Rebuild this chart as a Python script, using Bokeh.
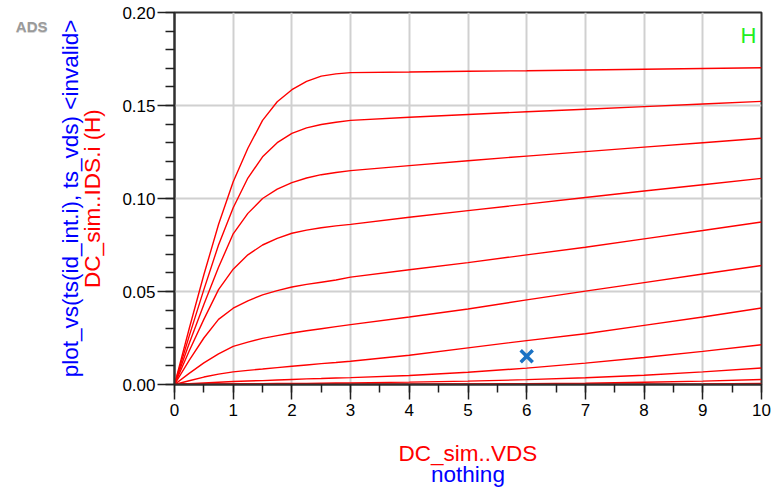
import math
from bokeh.plotting import figure
from bokeh.models import Range1d, FixedTicker, NumeralTickFormatter, Label, LinearAxis
from bokeh.embed import file_html
from bokeh.resources import INLINE

# ---------------- data ----------------
vds = [0, 0.25, 0.5, 0.75, 1, 1.25, 1.5, 1.75, 2, 2.25, 2.5, 2.75, 3, 4, 5, 6, 7, 8, 9, 10]

ids_1 = [0, 0.030, 0.059, 0.086, 0.109, 0.127, 0.142, 0.152, 0.1585, 0.163, 0.1658, 0.167, 0.1677,
         0.1680, 0.1684, 0.1687, 0.1691, 0.1695, 0.1699, 0.1703]
ids_2 = [0, 0.026, 0.051, 0.075, 0.095, 0.111, 0.1224, 0.130, 0.135, 0.138, 0.1398, 0.141, 0.142,
         0.1437, 0.1452, 0.1466, 0.1480, 0.1494, 0.1508, 0.1522]
ids_3 = [0, 0.022, 0.043, 0.063, 0.081, 0.092, 0.100, 0.105, 0.1085, 0.111, 0.1128, 0.114, 0.115,
         0.1177, 0.1203, 0.1228, 0.1252, 0.1276, 0.1300, 0.1324]
ids_4 = [0, 0.018, 0.035, 0.051, 0.062, 0.0697, 0.075, 0.0786, 0.0813, 0.0830, 0.0843, 0.0853, 0.0861,
         0.0899, 0.0935, 0.0970, 0.1005, 0.1040, 0.1074, 0.1108]
ids_5 = [0, 0.013, 0.025, 0.035, 0.041, 0.045, 0.0482, 0.0505, 0.0524, 0.0538, 0.0550, 0.0562, 0.0577,
         0.0617, 0.0655, 0.0697, 0.0738, 0.0783, 0.0828, 0.0874]
ids_6 = [0, 0.006, 0.0116, 0.0165, 0.0205, 0.0228, 0.0248, 0.0263, 0.0277, 0.0289, 0.0300, 0.0311, 0.0322,
         0.0363, 0.0406, 0.0455, 0.0502, 0.0548, 0.0594, 0.0640]
ids_7 = [0, 0.002, 0.004, 0.0056, 0.0068, 0.0076, 0.0083, 0.0091, 0.0098, 0.0105, 0.0112, 0.0118, 0.0125,
         0.0157, 0.0197, 0.0236, 0.0273, 0.0318, 0.0363, 0.0411]
ids_8 = [0, 0.0004, 0.0008, 0.0012, 0.0016, 0.0019, 0.0021, 0.0024, 0.0027, 0.0030, 0.0032, 0.0035, 0.0037,
         0.0048, 0.0066, 0.0088, 0.0115, 0.0145, 0.0178, 0.0214]
ids_9 = [0, 0.0001, 0.0001, 0.0002, 0.0003, 0.0003, 0.0004, 0.0005, 0.0006, 0.0006, 0.0007, 0.0008, 0.0009,
         0.0013, 0.0018, 0.0026, 0.0036, 0.0050, 0.0068, 0.0089]
ids_10 = [0, 0, 0, 0, 0.0001, 0.0001, 0.0001, 0.0001, 0.0001, 0.0001, 0.0001, 0.0001, 0.0002,
          0.0002, 0.0003, 0.0004, 0.0007, 0.0012, 0.0018, 0.0027]
ids_11 = [0, 0, 0, 0, 0, 0, 0, 0, 0, 0, 0, 0, 0,
          0, 0, 0.0001, 0.0001, 0.0002, 0.0003, 0.0005]

curves = [ids_1, ids_2, ids_3, ids_4, ids_5, ids_6, ids_7, ids_8, ids_9, ids_10, ids_11]

marker_x = [6]
marker_y = [0.0152]

x_ticks = [0, 1, 2, 3, 4, 5, 6, 7, 8, 9, 10]
x_minor = [0.5 * k for k in range(21)]
y_ticks = [0.0, 0.05, 0.10, 0.15, 0.20]
y_minor = [0.01 * k for k in range(21)]

x_title = "DC_sim..VDS"
x_title2 = "nothing"
y_title = "DC_sim..IDS.i (H)"
y_title2 = "plot_vs(ts(id_int.i), ts_vds) <invalid>"
logo_text = "ADS"
marker_label = "H"

# ---------------- layout ----------------
W, H = 778, 489
FL, FT, FW, FH = 174, 12, 587, 373        # frame left/top/width/height on canvas
XMIN, XMAX, YMIN, YMAX = 0, 10, 0.0, 0.2
PX_Y = (YMAX - YMIN) / FH                  # data units per vertical pixel

p = figure(width=W, height=H, output_backend="svg", toolbar_location=None,
           x_range=Range1d(XMIN, XMAX), y_range=Range1d(YMIN, YMAX),
           min_border_left=FL, min_border_right=W - FL - FW,
           min_border_top=FT, min_border_bottom=H - FT - FH)
p.title = None
p.background_fill_color = "white"
p.border_fill_color = "white"
p.outline_line_color = "#303030"
p.outline_line_width = 2

FONT = "Liberation Sans"
TITLE_SIZE = "22.5px"

for ax, ticks, minor in ((p.xaxis[0], x_ticks, x_minor), (p.yaxis[0], y_ticks, y_minor)):
    ax.ticker = FixedTicker(ticks=ticks, minor_ticks=minor)
    ax.axis_line_color = "#303030"
    ax.axis_line_width = 2
    ax.major_tick_line_color = "#202020"
    ax.minor_tick_line_color = "#202020"
    ax.major_tick_line_width = 1.5
    ax.minor_tick_line_width = 1.5
    ax.major_tick_in = 0
    ax.minor_tick_in = 0
    ax.major_label_text_font = FONT
    ax.major_label_text_font_size = "17px"
    ax.major_label_text_color = "black"
    ax.axis_label_text_font = FONT
    ax.axis_label_text_font_size = TITLE_SIZE
    ax.axis_label_text_font_style = "normal"
    ax.axis_label_text_color = "#ff0000"

p.xaxis.major_tick_out = 15
p.xaxis.minor_tick_out = 8
p.xaxis.major_label_standoff = 4
p.xaxis.axis_label = x_title
p.xaxis.axis_label_standoff = 22
p.yaxis.major_tick_out = 17
p.yaxis.minor_tick_out = 9
p.yaxis.major_label_standoff = 2
p.yaxis.formatter = NumeralTickFormatter(format="0.00")
p.yaxis.axis_label = y_title
p.yaxis.axis_label_standoff = 14


def bare_axis(**kw):
    base = dict(ticker=FixedTicker(ticks=[]), axis_line_color=None,
                major_tick_line_color=None, minor_tick_line_color=None,
                major_tick_out=0, minor_tick_out=0, major_tick_in=0, minor_tick_in=0,
                major_label_standoff=0, axis_label_text_font=FONT,
                axis_label_text_font_size=TITLE_SIZE, axis_label_text_font_style="normal",
                axis_label_text_color="#0000ff")
    base.update(kw)
    return LinearAxis(**base)

# second (blue) axis titles
p.add_layout(bare_axis(axis_label=x_title2, axis_label_standoff=-7), "below")
p.add_layout(bare_axis(axis_label=y_title2, axis_label_standoff=-5), "left")

# "ADS" logo drawn as a horizontal tick label of two tick-less left axes (shadow, then text)
logo_y = YMAX - 14 * PX_Y
for y_off, standoff, col in ((-1 * PX_Y, 7, "#d6d6d6"), (0.0, -35, "#9a9a9a")):
    tick = logo_y + y_off
    p.add_layout(bare_axis(ticker=FixedTicker(ticks=[tick]), major_label_overrides={tick: logo_text},
                           major_label_standoff=standoff, major_label_text_font=FONT,
                           major_label_text_font_size="15px", major_label_text_font_style="bold",
                           major_label_text_color=col), "left")

p.grid.grid_line_color = "#d0d0d0"
p.grid.grid_line_width = 2

for c in curves:
    p.line(vds, c, line_color="#ff0000", line_width=1.4)

p.scatter(marker_x, marker_y, marker="x", size=17, line_color="#1a72c4", line_width=3.5)

# "H" label (inside the frame, data units)
p.add_layout(Label(x=XMAX - (13 / FW) * (XMAX - XMIN), y=YMAX - 23 * PX_Y,
                   text=marker_label, text_color="#22ee22", text_font=FONT, text_font_size="22px",
                   text_align="center", text_baseline="middle"))

open("out.html", "w").write(file_html(p, INLINE))
